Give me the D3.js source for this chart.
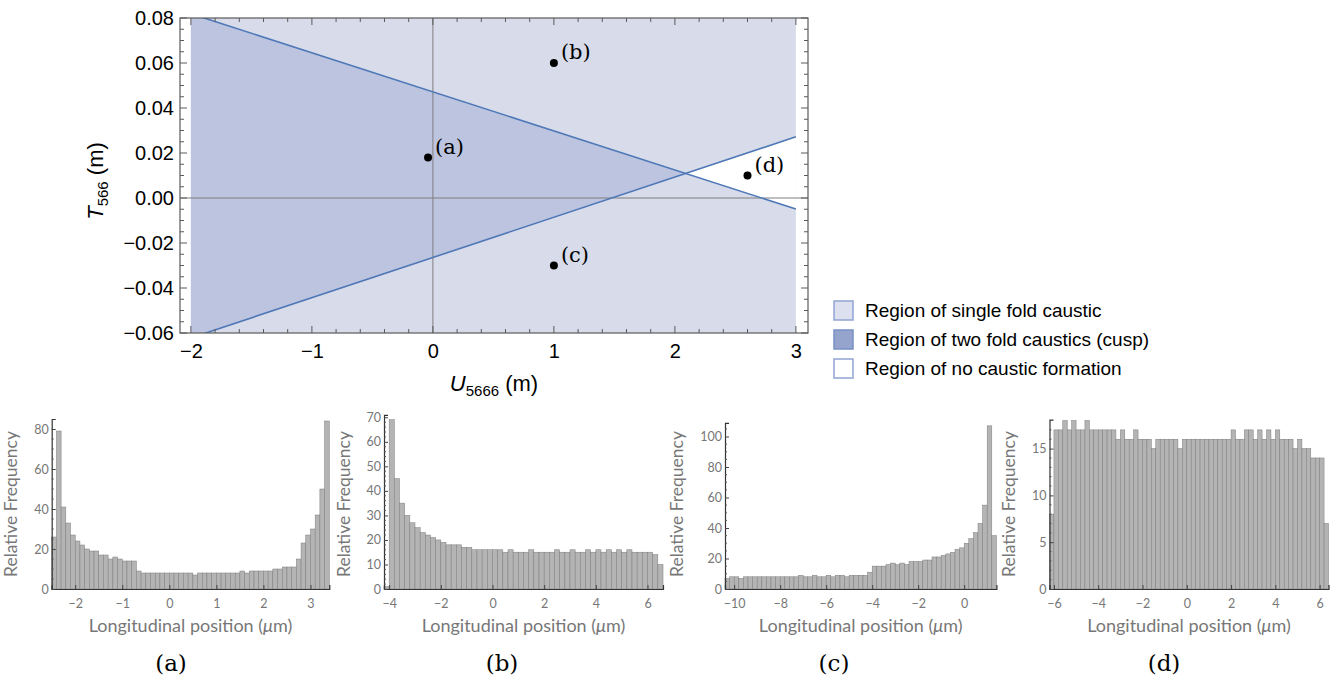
<!DOCTYPE html>
<html><head><meta charset="utf-8">
<script src="https://cdn.jsdelivr.net/npm/d3@7"></script>
<style>body{margin:0;background:#fff}</style>
</head><body>
<svg id="c" width="1330" height="684" xmlns="http://www.w3.org/2000/svg"></svg>
<script>
// ---------- main chart data ----------
const mainXTicks = [-2, -1, 0, 1, 2, 3];
const mainYTicks = [-0.06, -0.04, -0.02, 0, 0.02, 0.04, 0.06, 0.08];
const upperBoundary = [[-2, 0.0819], [3, -0.0049]];
const lowerBoundary = [[-2, -0.0622], [3, 0.0272]];
const regionU = [-2, 3];
const regionT = [-0.06, 0.08];
const sampleLabels = ["(a)", "(b)", "(c)", "(d)"];
const sampleU = [-0.04, 1, 1, 2.6];
const sampleT = [0.018, 0.06, -0.03, 0.01];
const legendLabels = ["Region of single fold caustic", "Region of two fold caustics (cusp)", "Region of no caustic formation"];

// ---------- histogram data ----------
const histA = [26,79,41,33,27,24,22,20,19,19,17,17,15,16,15,14,14,14,9,8,8,8,8,8,8,8,8,8,8,8,7,8,8,8,8,8,8,8,8,8,9,8,9,9,9,9,9,10,10,11,11,11,15,23,27,30,37,50,84];
const histAStart = -2.5, histAWidth = 0.1;
const histAXTicks = [-2,-1,0,1,2,3], histAYTicks = [0,20,40,60,80];

const histB = [1,69,45,35,30,27,25,23,22,21, 20,19,18,18,18,17,17,16,16,16, 16,16,16,15,16,15,15,15,16,15, 15,15,15,16,15,15,16,15,15,16, 15,16,15,16,15,16,15,16,15,15, 15,15,14,10];
const histBStart = -4.2, histBWidth = 0.2;
const histBXTicks = [-4,-2,0,2,4,6], histBYTicks = [0,10,20,30,40,50,60,70];

const histC = [7,8,8,7,8,8,8,8,8,8, 8,8,8,8,8,8,9,8,8,9, 8,8,9,8,9,9,8,9,9,9, 9,11,15,15,15,16,17,16,17,16, 18,18,18,19,19,21,21,22,23,24, 26,27,30,33,37,43,55,107,35];
const histCStart = -10.4, histCWidth = 0.2;
const histCXTicks = [-10,-8,-6,-4,-2,0], histCYTicks = [0,20,40,60,80,100];

const histD = [8, 17,17,18,17,18,17,17,18,17,17,17,17,17,17,16,17,16,16,17,16,16,16,15,16,16,16,16,16,15,16,
               16,16,16,16,16,16,16,16,16,16,17,16,16,17,17,16,17,16,17,16,17,16,16,16,15,16,15,15,14,14,14, 7];
const histDStart = -6.2, histDWidth = 0.2;
const histDXTicks = [-6,-4,-2,0,2,4,6], histDYTicks = [0,5,10,15];

const captions = ["(a)", "(b)", "(c)", "(d)"];

// ---------- drawing ----------
const svg = d3.select("#c");
const SANS = "'Liberation Sans', Arial, sans-serif";
const SERIF = "'DejaVu Serif', serif";
const HSANS = "Lato, 'Open Sans', sans-serif";

const X = d3.scaleLinear().domain([-2.09, 3.1]).range([180, 808]);
const Y = d3.scaleLinear().domain([-0.06, 0.08]).range([333, 18]);

svg.append("clipPath").attr("id", "pc").append("rect")
  .attr("x", X.range()[0]).attr("y", Y.range()[1])
  .attr("width", X.range()[1] - X.range()[0]).attr("height", Y.range()[0] - Y.range()[1]);

const g = svg.append("g").attr("clip-path", "url(#pc)");
g.append("rect")
  .attr("x", X(regionU[0])).attr("y", Y(regionT[1]))
  .attr("width", X(regionU[1]) - X(regionU[0]))
  .attr("height", Y(regionT[0]) - Y(regionT[1]))
  .attr("fill", "#d7dbea");

const lineAt = (L, u) => L[0][1] + (L[1][1] - L[0][1]) * (u - L[0][0]) / (L[1][0] - L[0][0]);
const fa = lineAt(upperBoundary, regionU[0]) - lineAt(lowerBoundary, regionU[0]);
const fb = lineAt(upperBoundary, regionU[1]) - lineAt(lowerBoundary, regionU[1]);
const uStar = regionU[0] + (regionU[1] - regionU[0]) * fa / (fa - fb);
const tStar = lineAt(upperBoundary, uStar);

const poly = d3.line().x(d => X(d[0])).y(d => Y(d[1]));
g.append("path")
  .attr("d", poly([[regionU[0], lineAt(upperBoundary, regionU[0])], [uStar, tStar], [regionU[0], lineAt(lowerBoundary, regionU[0])]]) + "Z")
  .attr("fill", "#bcc4df");
g.append("path")
  .attr("d", poly([[uStar, tStar], [regionU[1], lineAt(lowerBoundary, regionU[1])], [regionU[1], lineAt(upperBoundary, regionU[1])]]) + "Z")
  .attr("fill", "#ffffff");

// zero axes
g.append("line").attr("x1", X(0)).attr("x2", X(0)).attr("y1", Y.range()[0]).attr("y2", Y.range()[1])
  .attr("stroke", "#7f7f7f").attr("stroke-width", 1);
g.append("line").attr("x1", X.range()[0]).attr("x2", X.range()[1]).attr("y1", Y(0)).attr("y2", Y(0))
  .attr("stroke", "#7f7f7f").attr("stroke-width", 1);

// boundary lines
[upperBoundary, lowerBoundary].forEach(L => {
  g.append("path").attr("d", poly(L)).attr("fill", "none")
    .attr("stroke", "#4f78b7").attr("stroke-width", 1.6);
});

// frame
svg.append("rect")
  .attr("x", X.range()[0]).attr("y", Y.range()[1])
  .attr("width", X.range()[1] - X.range()[0]).attr("height", Y.range()[0] - Y.range()[1])
  .attr("fill", "none").attr("stroke", "#5a5a5a").attr("stroke-width", 1.2);

// ticks (inward) on four sides
const tk = svg.append("g").attr("stroke", "#5a5a5a").attr("stroke-width", 1);
const xMinor = d3.range(-2, 3.0001, 0.2);
const yMinor = d3.range(-0.06, 0.08001, 0.005);
xMinor.forEach(u => {
  const major = mainXTicks.some(v => Math.abs(v - u) < 1e-6);
  const len = major ? 7 : 4;
  tk.append("line").attr("x1", X(u)).attr("x2", X(u)).attr("y1", Y.range()[0]).attr("y2", Y.range()[0] - len);
  tk.append("line").attr("x1", X(u)).attr("x2", X(u)).attr("y1", Y.range()[1]).attr("y2", Y.range()[1] + len);
});
yMinor.forEach(t => {
  const major = mainYTicks.some(v => Math.abs(v - t) < 1e-6);
  const len = major ? 7 : 4;
  tk.append("line").attr("x1", X.range()[0]).attr("x2", X.range()[0] + len).attr("y1", Y(t)).attr("y2", Y(t));
  tk.append("line").attr("x1", X.range()[1]).attr("x2", X.range()[1] - len).attr("y1", Y(t)).attr("y2", Y(t));
});

// tick labels via d3 axes
const xAx = svg.append("g").attr("transform", `translate(0,${Y.range()[0]})`)
  .call(d3.axisBottom(X).tickValues(mainXTicks).tickSize(0).tickPadding(11).tickFormat(d3.format("d")));
const yAx = svg.append("g").attr("transform", `translate(${X.range()[0]},0)`)
  .call(d3.axisLeft(Y).tickValues(mainYTicks).tickSize(0).tickPadding(6).tickFormat(d3.format(".2f")));
[xAx, yAx].forEach(a => {
  a.select(".domain").remove();
  a.selectAll("text").attr("font-family", SANS).attr("font-size", 20).attr("fill", "#000");
});

// axis titles
const xt = svg.append("text").attr("x", (X.range()[0] + X.range()[1]) / 2).attr("y", 391)
  .attr("text-anchor", "middle").attr("font-family", SANS).attr("font-size", 22).attr("fill", "#000");
xt.append("tspan").attr("font-style", "italic").text("U");
xt.append("tspan").attr("font-size", 15).attr("dy", 5).text("5666");
xt.append("tspan").attr("dy", -5).text(" (m)");

const yt = svg.append("text").attr("transform", "translate(103,181) rotate(-90)")
  .attr("text-anchor", "middle").attr("font-family", SANS).attr("font-size", 22).attr("fill", "#000");
yt.append("tspan").attr("font-style", "italic").text("T");
yt.append("tspan").attr("font-size", 15).attr("dy", 5).text("566");
yt.append("tspan").attr("dy", -5).text(" (m)");

// sample points
sampleLabels.forEach((lab, i) => {
  const px = X(sampleU[i]), py = Y(sampleT[i]);
  svg.append("circle").attr("cx", px).attr("cy", py).attr("r", 4).attr("fill", "#000");
  svg.append("text").attr("x", px + 7).attr("y", py - 4)
    .attr("font-family", SERIF).attr("font-size", 21).attr("fill", "#000").text(lab);
});

// legend
const legFill = ["#dce0ef", "#94a4cd", "#ffffff"];
const legStroke = ["#90a4d2", "#7890c6", "#90a4d2"];
legendLabels.forEach((lab, i) => {
  const y0 = 301 + i * 29;
  svg.append("rect").attr("x", 834).attr("y", y0).attr("width", 19).attr("height", 19)
    .attr("fill", legFill[i]).attr("stroke", legStroke[i]).attr("stroke-width", 1.5);
  svg.append("text").attr("x", 865).attr("y", y0 + 16)
    .attr("font-family", SANS).attr("font-size", 19).attr("fill", "#000").text(lab);
});

// ---------- histograms ----------
const panels = [
  { vals: histA, start: histAStart, w: histAWidth, xt: histAXTicks, yt: histAYTicks, xd: [-2.5, 3.4], xr: [51.7, 329.3], ymax: 85, ppu: 2.0, minorY: 5, minorX: 0.5, ylabX: 17, cap: 171 },
  { vals: histB, start: histBStart, w: histBWidth, xt: histBXTicks, yt: histBYTicks, xd: [-4.2, 6.6], xr: [384, 663], ymax: 71, ppu: 2.453, minorY: 2, minorX: 0.5, ylabX: 350, cap: 502 },
  { vals: histC, start: histCStart, w: histCWidth, xt: histCXTicks, yt: histCYTicks, xd: [-10.4, 1.4], xr: [725, 996.4], ymax: 109, ppu: 1.525, minorY: 5, minorX: 0.5, ylabX: 683, cap: 834 },
  { vals: histD, start: histDStart, w: histDWidth, xt: histDXTicks, yt: histDYTicks, xd: [-6.2, 6.4], xr: [1049.5, 1328.5], ymax: 18.1, ppu: 9.36, minorY: 1, minorX: 0.5, ylabX: 1015, cap: 1164 }
];
const base = 589;
panels.forEach((p, k) => {
  const hx = d3.scaleLinear().domain(p.xd).range(p.xr);
  const hy = d3.scaleLinear().domain([0, p.ymax]).range([base, base - p.ymax * p.ppu]);
  const hg = svg.append("g");
  hg.selectAll("rect.bar").data(p.vals).enter().append("rect")
    .attr("x", (d, i) => hx(p.start + i * p.w))
    .attr("width", (d, i) => hx(p.start + (i + 1) * p.w) - hx(p.start + i * p.w))
    .attr("y", d => hy(d)).attr("height", d => hy(0) - hy(d))
    .attr("fill", "#b4b4b4").attr("stroke", "#7c7c7c").attr("stroke-width", 0.5);
  // axes
  const ax = hg.append("g").attr("transform", `translate(0,${base})`)
    .call(d3.axisBottom(hx).tickValues(p.xt).tickSize(-4).tickPadding(6).tickFormat(d3.format("d")));
  const ay = hg.append("g").attr("transform", `translate(${p.xr[0]},0)`)
    .call(d3.axisLeft(hy).tickValues(p.yt).tickSize(-4).tickPadding(3).tickFormat(d3.format("d")));
  [ax, ay].forEach(a => {
    a.select(".domain").attr("stroke", "#333").attr("stroke-width", 1.2);
    a.selectAll(".tick line").attr("stroke", "#444");
    a.selectAll("text").attr("font-family", HSANS).attr("font-size", 12.5).attr("fill", "#777");
  });
  ax.selectAll("text").attr("dy", "1.05em");
  // minor ticks
  d3.range(0, p.ymax, p.minorY).forEach(v => {
    if (p.yt.includes(v)) return;
    hg.append("line").attr("x1", p.xr[0]).attr("x2", p.xr[0] + 2).attr("y1", hy(v)).attr("y2", hy(v)).attr("stroke", "#555");
  });
  // labels
  hg.append("text").attr("transform", `translate(${p.ylabX},504) rotate(-90)`)
    .attr("text-anchor", "middle").attr("font-family", HSANS).attr("font-size", 17.5).attr("fill", "#777")
    .text("Relative Frequency");
  const xl = hg.append("text").attr("x", (p.xr[0] + p.xr[1]) / 2).attr("y", 632)
    .attr("text-anchor", "middle").attr("font-family", HSANS).attr("font-size", 18).attr("fill", "#777");
  xl.append("tspan").text("Longitudinal position (");
  xl.append("tspan").attr("font-style", "italic").text("μ");
  xl.append("tspan").text("m)");
  svg.append("text").attr("x", p.cap).attr("y", 671).attr("text-anchor", "middle")
    .attr("font-family", SERIF).attr("font-size", 23).attr("fill", "#000").text(captions[k]);
});
</script>
</body></html>
